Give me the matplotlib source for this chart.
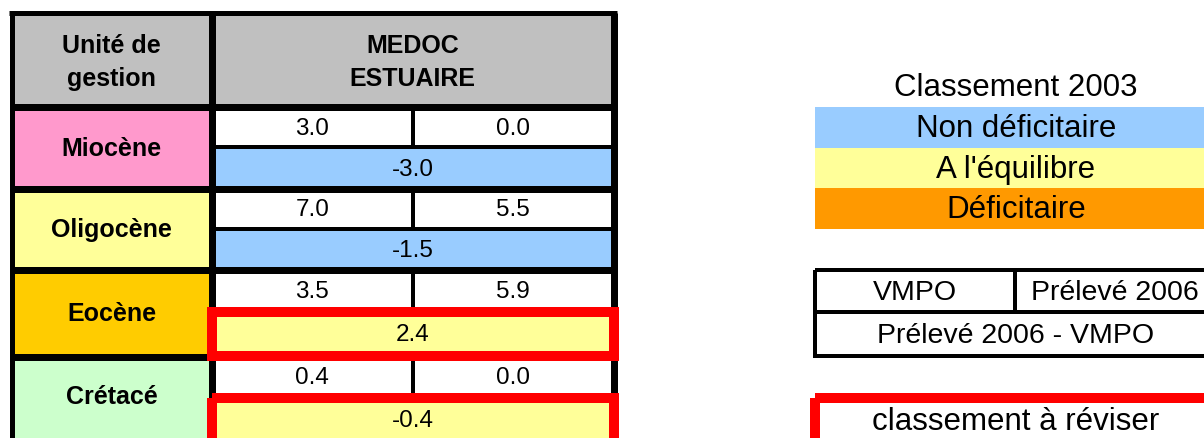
"""
Tableau de classement des unites de gestion - MEDOC ESTUAIRE
Reproduction du tableau Excel avec matplotlib
"""

import matplotlib.pyplot as plt
from matplotlib.patches import Rectangle

plt.rcParams['font.family'] = ['Liberation Sans', 'DejaVu Sans']

# Donnees
unites = ['Miocène', 'Oligocène', 'Eocène', 'Crétacé']
couleurs_unites = ['#FF99CC', '#FFFF99', '#FFCC00', '#CCFFCC']
vmpo = [3.0, 7.0, 3.5, 0.4]
preleve_2006 = [0.0, 5.5, 5.9, 0.0]
ecart = [-3.0, -1.5, 2.4, -0.4]
classement = ['Non déficitaire', 'Non déficitaire', "A l'équilibre", "A l'équilibre"]
a_reviser = [False, False, True, True]

secteur = 'MEDOC\nESTUAIRE'
entete_unite = 'Unité de\ngestion'
titre_legende = 'Classement 2003'
legende_labels = ['Non déficitaire', "A l'équilibre", 'Déficitaire']
legende_couleurs = ['#99CCFF', '#FFFF99', '#FF9900']

PX = 72 / 100  # pixels -> points


def lw(px):
    return px * PX


fig = plt.figure(figsize=(12.04, 4.39), dpi=100)
ax = fig.add_axes([0, 0, 1, 1])
ax.set_xlim(0, 1204)
ax.set_ylim(439, 0)
ax.axis('off')

# --- Geometrie du tableau (en pixels) ---
x_left, x_lab, x_mid, x_right = 11.5, 211.5, 413, 613.5
y_top, y_head = 13.5, 108
blocs = [108, 189.5, 271, 357.5, 445]

# entete
ax.add_patch(Rectangle((x_left, y_top), x_lab - x_left, y_head - y_top, color='#C0C0C0', lw=0))
ax.add_patch(Rectangle((x_lab, y_top), x_right - x_lab, y_head - y_top, color='#C0C0C0', lw=0))
ax.text((x_left + x_lab) / 2, 62.5, entete_unite, ha='center', va='center',
        fontsize=18, fontweight='bold', linespacing=1.45)
ax.text((x_lab + x_right) / 2, 62.5, secteur, ha='center', va='center',
        fontsize=18, fontweight='bold', linespacing=1.45)

for i, nom in enumerate(unites):
    top, bot = blocs[i], blocs[i + 1]
    split = top + 40
    # cellule unite
    ax.add_patch(Rectangle((x_left, top), x_lab - x_left, bot - top, color=couleurs_unites[i], lw=0))
    y_nom = (top + bot) / 2 if bot < 439 else (top + 439) / 2 - 1
    ax.text((x_left + x_lab) / 2, y_nom, nom, ha='center', va='center', fontsize=18, fontweight='bold')
    # valeurs
    ax.text((x_lab + x_mid) / 2, (top + split) / 2 + 1, f'{vmpo[i]:.1f}', ha='center', va='center', fontsize=17.5)
    ax.text((x_mid + x_right) / 2, (top + split) / 2 + 1, f'{preleve_2006[i]:.1f}', ha='center', va='center', fontsize=17.5)
    ax.vlines(x_mid, top, split, color='black', lw=lw(4))
    # ecart
    fond = legende_couleurs[legende_labels.index(classement[i])]
    ax.add_patch(Rectangle((x_lab, split), x_right - x_lab, bot - split, color=fond, lw=0))
    y_ecart = (split + bot) / 2 + 1 if bot < 439 else (split + 439) / 2 + 3
    ax.text((x_lab + x_right) / 2, y_ecart, f'{ecart[i]:.1f}', ha='center', va='center', fontsize=17.5)
    if a_reviser[i]:
        ax.add_patch(Rectangle((212, split + 2), 402, bot - split - 0.5 - 2 if bot < 439 else 60,
                               fill=False, edgecolor='#FF0000', lw=lw(10), joinstyle='miter', zorder=5))
    else:
        ax.hlines(split, x_lab, x_right, color='black', lw=lw(4))
    # lignes horizontales
    ax.hlines(top, x_left, x_right, color='black', lw=lw(7))

# cadre
ax.hlines(y_top, x_left - 2.5, x_right + 3.5, color='black', lw=lw(5))
ax.vlines(x_left, y_top, 439, color='black', lw=lw(5))
ax.vlines(x_lab, y_top, 439, color='black', lw=lw(7))
ax.vlines(x_right, y_top, 439, color='black', lw=lw(7))

# --- Legende classement ---
ax.text(1016, 88, titre_legende, ha='center', va='center', fontsize=22.5)
for k, (lab, c) in enumerate(zip(legende_labels, legende_couleurs)):
    y0 = 108 + k * 40.7
    ax.add_patch(Rectangle((815, y0), 420, 40.7, color=c, lw=0))
    ax.text(1016, y0 + 21, lab, ha='center', va='center', fontsize=22.5)

# --- Legende des cellules ---
ax.add_patch(Rectangle((815, 271), 400, 86, fill=False, edgecolor='black', lw=lw(4), joinstyle='miter'))
ax.hlines(313, 815, 1215, color='black', lw=lw(4))
ax.vlines(1015, 271, 313, color='black', lw=lw(4))
ax.text(915, 293, 'VMPO', ha='center', va='center', fontsize=20.5)
ax.text(1115, 293, 'Prélevé 2006', ha='center', va='center', fontsize=20.5)
ax.text(1016, 336, 'Prélevé 2006 - VMPO', ha='center', va='center', fontsize=20.5)

ax.add_patch(Rectangle((815, 399), 410, 44, fill=False, edgecolor='#FF0000', lw=lw(10), joinstyle='miter'))
ax.text(1016, 422, 'classement à réviser', ha='center', va='center', fontsize=22.5)

fig.savefig('out.png', dpi=100)
